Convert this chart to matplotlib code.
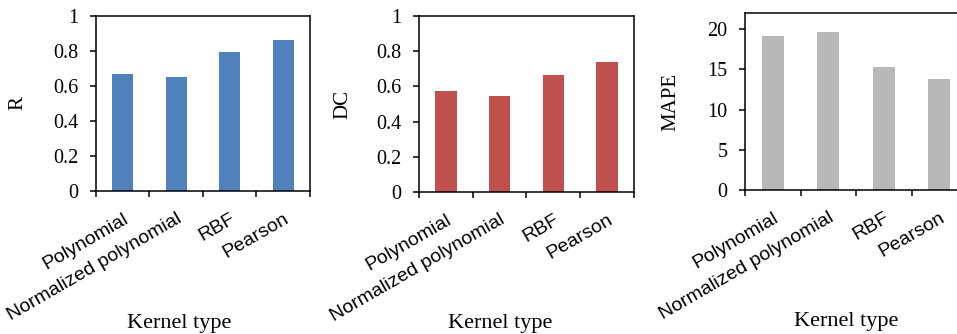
import numpy as np
import matplotlib
matplotlib.use("Agg")
import matplotlib.pyplot as plt
from matplotlib.ticker import FixedLocator, FuncFormatter

kernels = ["Polynomial", "Normalized polynomial", "RBF", "Pearson"]
r_vals = [0.67, 0.65, 0.795, 0.863]
dc_vals = [0.576, 0.545, 0.667, 0.739]
mape_vals = [19.1, 19.63, 15.27, 13.86]

SERIF = "Liberation Serif"
SANS = "Liberation Sans"


def panel(fig, rect, vals, color, ylabel, ylim, yticks, xlab_pos, ylab_x):
    ax = fig.add_axes(rect)
    x = np.arange(len(kernels))
    ax.bar(x, vals, width=0.4, color=color, zorder=2)

    ax.set_xlim(-0.5, len(kernels) - 0.5)
    ax.set_ylim(*ylim)

    # category labels at centres, tick marks at category boundaries
    ax.set_xticks(x)
    ax.set_xticklabels(kernels, rotation=30, ha="right", va="top",
                       rotation_mode="anchor", family=SANS, fontsize=14)
    ax.tick_params(axis="x", which="major", length=0, pad=14)
    ax.xaxis.set_minor_locator(FixedLocator(np.arange(-0.5, len(kernels), 1.0)))
    ax.tick_params(axis="x", which="minor", direction="out", length=4.5, width=1.1)

    ax.set_yticks(yticks)
    ax.yaxis.set_major_formatter(FuncFormatter(lambda v, p: f"{v:g}"))
    ax.tick_params(axis="y", direction="out", length=4.5, width=1.1, pad=8, labelsize=14.5)
    for lbl in ax.get_yticklabels():
        lbl.set_family(SERIF)

    for sp in ax.spines.values():
        sp.set_linewidth(1.1)

    ax.set_ylabel(ylabel, family=SERIF, fontsize=15)
    ax.yaxis.set_label_coords(ylab_x, 0.5)
    ax.set_xlabel("Kernel type", family=SERIF, fontsize=16)
    ax.xaxis.set_label_coords(*xlab_pos)
    return ax


fig = plt.figure(figsize=(9.57, 3.34), dpi=100)

panel(fig, [0.1003, 0.428, 0.2236, 0.524], r_vals, "#4F81BD", "R",
      (0, 1), [0, 0.2, 0.4, 0.6, 0.8, 1.0], (0.388, -0.70), -0.32)
panel(fig, [0.4378, 0.425, 0.2247, 0.527], dc_vals, "#C0504D", "DC",
      (0, 1), [0, 0.2, 0.4, 0.6, 0.8, 1.0], (0.377, -0.695), -0.31)
# third panel runs past the right edge, as in the original export
panel(fig, [0.7785, 0.431, 0.232, 0.530], mape_vals, "#B8B8B8", "MAPE",
      (0, 22), [0, 5, 10, 15, 20], (0.455, -0.69), -0.29)

fig.savefig("out.png", dpi=100)
